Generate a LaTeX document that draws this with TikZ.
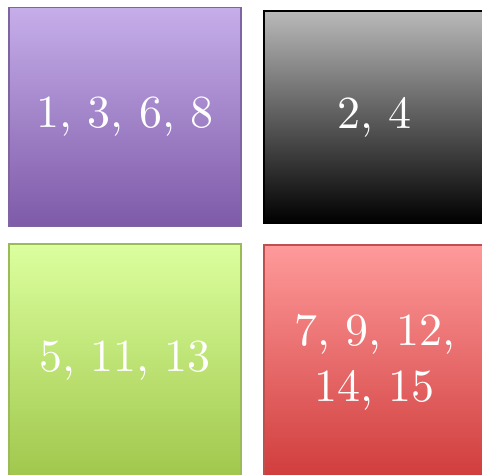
\documentclass[tikz,border=0pt]{standalone}
\usepackage{fontspec}
\setmainfont{lmroman10-regular.otf}
\usetikzlibrary{shadings}

\definecolor{lilacTop}{HTML}{C6AEEA}
\definecolor{lilacBot}{HTML}{7E5AA8}
\definecolor{lilacLine}{HTML}{8064A2}
\definecolor{greyTop}{HTML}{B9B9B9}
\definecolor{greyBot}{HTML}{000000}
\definecolor{limeTop}{HTML}{DCFF9E}
\definecolor{limeBot}{HTML}{A0C74C}
\definecolor{limeLine}{HTML}{9BBB59}
\definecolor{roseTop}{HTML}{FF9A9A}
\definecolor{roseBot}{HTML}{D03C3C}
\definecolor{roseLine}{HTML}{C0504D}

\begin{document}
\begin{tikzpicture}[x=1pt,y=-1pt,
  tile/.style={rectangle,inner sep=0pt,line width=1.4pt,text=white,align=center,
    font=\fontsize{46}{56}\selectfont}]
\useasboundingbox (0,0) rectangle (482,474);
\clip (0,0) rectangle (482,474);
% top row
\node[tile,draw=lilacLine,top color=lilacTop,bottom color=lilacBot,
  minimum width=232pt,minimum height=219pt] (odd) at (125,117) {1, 3, 6, 8};
\node[tile,draw=black,line width=2pt,top color=greyTop,bottom color=greyBot,
  minimum width=221pt,minimum height=212pt] (even) at (374.5,117) {2, 4};
% bottom row
\node[tile,draw=limeLine,top color=limeTop,bottom color=limeBot,
  minimum width=232pt,minimum height=234pt] (mid) at (125,361) {5, 11, 13};
\node[tile,draw=roseLine,top color=roseTop,bottom color=roseBot,
  minimum width=221pt,minimum height=234pt] (rest) at (374.5,362) {7, 9, 12,\\14, 15};
\end{tikzpicture}
\end{document}
